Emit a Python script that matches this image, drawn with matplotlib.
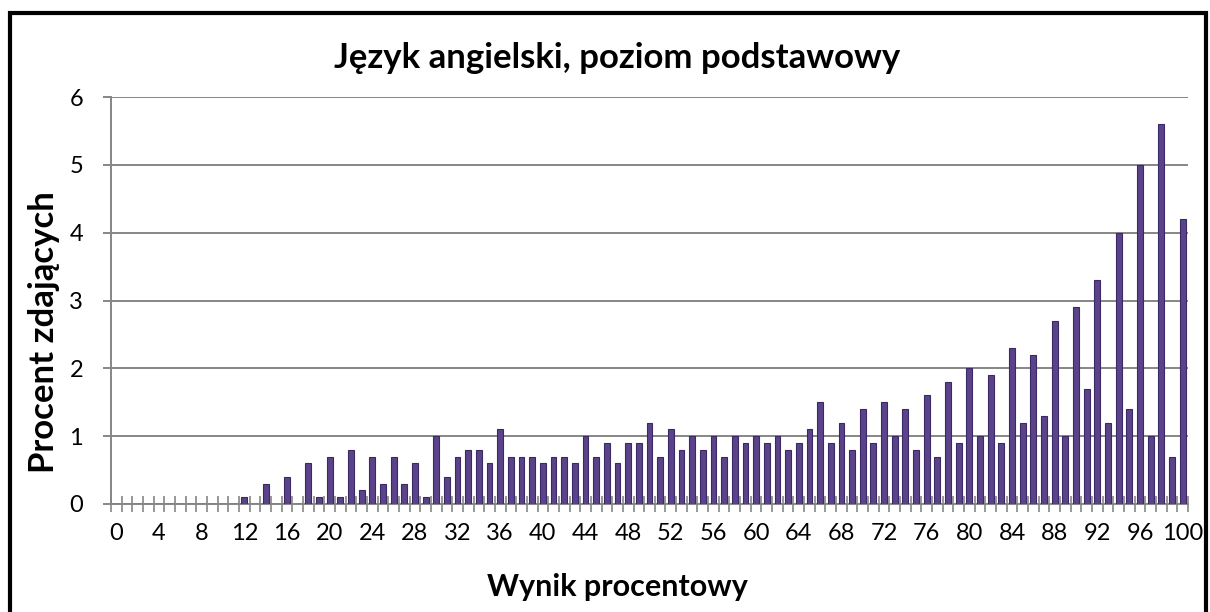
import matplotlib.pyplot as plt
import matplotlib.patches as mpatches
import numpy as np

plt.rcParams['font.family'] = ['Lato', 'DejaVu Sans']

# percentage score 0..100 and share of candidates (%)
scores = list(range(0, 101))
percent = [0, 0, 0, 0, 0, 0, 0, 0, 0, 0, 0, 0,
           0.1, 0, 0.3, 0, 0.4, 0, 0.6, 0.1, 0.7, 0.1, 0.8, 0.2,
           0.7, 0.3, 0.7, 0.3, 0.6, 0.1, 1.0, 0.4, 0.7, 0.8, 0.8, 0.6,
           1.1, 0.7, 0.7, 0.7, 0.6, 0.7, 0.7, 0.6, 1.0, 0.7, 0.9, 0.6,
           0.9, 0.9, 1.2, 0.7, 1.1, 0.8, 1.0, 0.8, 1.0, 0.7, 1.0, 0.9,
           1.0, 0.9, 1.0, 0.8, 0.9, 1.1, 1.5, 0.9, 1.2, 0.8, 1.4, 0.9,
           1.5, 1.0, 1.4, 0.8, 1.6, 0.7, 1.8, 0.9, 2.0, 1.0, 1.9, 0.9,
           2.3, 1.2, 2.2, 1.3, 2.7, 1.0, 2.9, 1.7, 3.3, 1.2, 4.0, 1.4,
           5.0, 1.0, 5.6, 0.7, 4.2]
y_ticks = [0, 1, 2, 3, 4, 5, 6]

title = 'Język angielski, poziom podstawowy'
xlabel = 'Wynik procentowy'
ylabel = 'Procent zdających'

W, H = 1210, 612
fig = plt.figure(figsize=(W / 100, H / 100), dpi=100)
ax = fig.add_axes([111 / W, 1 - 504 / H, (1188 - 111) / W, (504 - 97) / H])

grid_col = '#868686'
ax.bar(scores, percent, width=0.55, color='#5B4389', edgecolor='#3B2866',
       linewidth=0.8, zorder=3)

ax.set_xlim(-0.5, 100.5)
ax.set_ylim(0, 6)
ax.set_yticks(y_ticks)
ax.yaxis.grid(True, color=grid_col, linewidth=1.4, zorder=1)

# category boundary ticks, labels every 4th
ax.set_xticks(np.arange(-0.5, 101, 1))
ax.set_xticklabels([])
ax.set_xticks(scores[::4], minor=True)
ax.set_xticklabels([str(s) for s in scores[::4]], minor=True)
ax.tick_params(axis='x', which='major', direction='inout', length=12,
               width=1.2, color=grid_col)
ax.tick_params(axis='x', which='minor', length=0, labelsize=17, pad=14)
ax.tick_params(axis='y', direction='out', length=6, width=1.4,
               color=grid_col, labelsize=17, pad=14)

for s in ['top', 'right']:
    ax.spines[s].set_visible(False)
for s in ['left', 'bottom']:
    ax.spines[s].set_color(grid_col)
    ax.spines[s].set_linewidth(1.4)

fig.text(617 / W, 1 - 58 / H, title, ha='center', va='center',
         fontsize=25, fontweight='bold')
fig.text(617 / W, 1 - 587 / H, xlabel, ha='center', va='center',
         fontsize=22, fontweight='bold')
fig.text(44 / W, 1 - 332 / H, ylabel, ha='center', va='center',
         rotation=90, fontsize=25, fontweight='bold')

# outer frame
fig.patches.append(mpatches.Rectangle((10 / W, -0.05), (1206 - 10) / W,
                                      1.05 - 13 / H, transform=fig.transFigure,
                                      fill=False, edgecolor='black',
                                      linewidth=3))

fig.savefig('out.png', dpi=100)
